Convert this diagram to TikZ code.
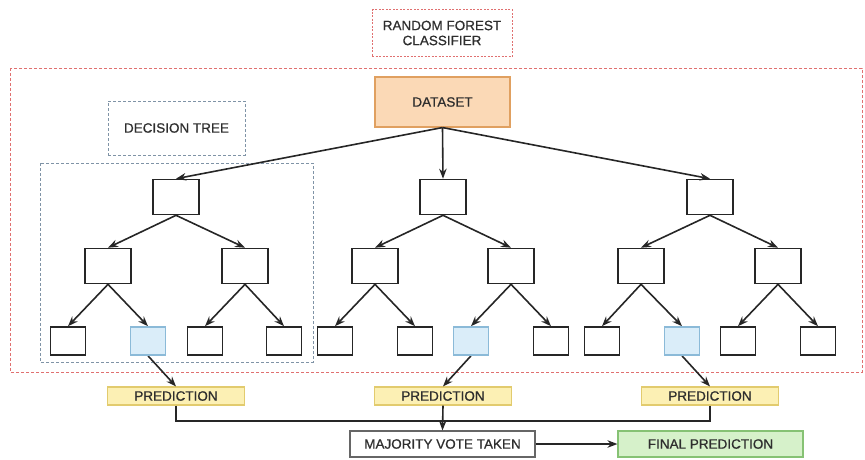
\documentclass[tikz,border=0pt]{standalone}
\usepackage{fontspec}
\setmainfont{Liberation Sans}
\newfontfamily\labfont{Liberation Sans}[FakeBold=0.7]
\usetikzlibrary{arrows.meta}
\definecolor{txt}{HTML}{2E2E2E}
\definecolor{redd}{HTML}{E07070}
\definecolor{blued}{HTML}{7F93A6}
\definecolor{dsfill}{HTML}{FBD9B6}
\definecolor{dsline}{HTML}{E0A060}
\definecolor{prfill}{HTML}{FCF0B4}
\definecolor{prline}{HTML}{E2CB6E}
\definecolor{lffill}{HTML}{DAEDF9}
\definecolor{lfline}{HTML}{8BBAD8}
\definecolor{fpfill}{HTML}{D6F1CA}
\definecolor{fpline}{HTML}{86C274}
\tikzset{
  box/.style={draw=black!85, line width=1.6pt, minimum width=#1, inner sep=0pt},
  tnode/.style={box=46pt, minimum height=35pt},
  leaf/.style={box=35pt, minimum height=28pt},
  hot/.style={leaf, draw=lfline, fill=lffill, line width=1.2pt},
  lab/.style={text=txt, font=\labfont\fontsize{13.5}{15}\selectfont, align=center, inner sep=0pt},
  pred/.style={lab, draw=prline, fill=prfill, line width=1.1pt, minimum width=137pt, minimum height=18pt},
  arr/.style={-{Stealth[length=10pt,width=7.5pt]}, line width=1.6pt, black!85},
  wire/.style={line width=1.6pt, black!85},
}
\begin{document}
\begin{tikzpicture}[x=1pt,y=-1pt]
\useasboundingbox (0,0) rectangle (865,459);

% frames
\draw[redd, dashed, line width=0.9pt, dash pattern=on 3pt off 2pt] (10,68) rectangle (862,372);
\node[lab, draw=redd, dashed, dash pattern=on 2pt off 1.5pt, line width=0.9pt, minimum width=140pt, minimum height=47pt] (rf) at (442,33) {RANDOM FOREST\\CLASSIFIER};
\node[lab, draw=blued, dashed, dash pattern=on 3pt off 2pt, line width=0.9pt, minimum width=137pt, minimum height=54pt] (dt) at (176.5,128) {DECISION TREE};
\draw[blued, dashed, dash pattern=on 3pt off 2pt, line width=0.9pt] (40,163) rectangle (313,362);

% dataset
\node[lab, draw=dsline, fill=dsfill, line width=1.1pt, minimum width=135pt, minimum height=50pt] (ds) at (442.5,102) {DATASET};

% three trees
\foreach \t/\rx/\lx/\ry/\a/\b/\c/\d/\h in {
  1/176/108/245/68/148/205/284/b,
  2/443/375/511/335/415/471/551/c,
  3/710/641/778/602/682/738/818/b}{
  \node[tnode] (r\t) at (\rx,197) {};
  \node[tnode] (l\t) at (\lx,266) {};
  \node[tnode] (m\t) at (\ry,266) {};
  \node[leaf] (a\t) at (\a,341) {};
  \node[leaf] (b\t) at (\b,341) {};
  \node[leaf] (c\t) at (\c,341) {};
  \node[leaf] (d\t) at (\d,341) {};
  \draw[arr] (ds.south) -- (r\t.north);
  \draw[arr] (r\t.south) -- (l\t.north);
  \draw[arr] (r\t.south) -- (m\t.north);
  \draw[arr] (l\t.south) -- (a\t.north);
  \draw[arr] (l\t.south) -- (b\t.north);
  \draw[arr] (m\t.south) -- (c\t.north);
  \draw[arr] (m\t.south) -- (d\t.north);
  \node[pred] (p\t) at (\rx,396) {PREDICTION};
  \draw[arr] (\h\t.south) -- (p\t.north);
}
% highlighted leaves
\node[hot] at (b1) {};
\node[hot] at (c2) {};
\node[hot] at (b3) {};

% vote and result
\node[lab, draw=black!60, fill=white, line width=1.1pt, minimum width=185pt, minimum height=26pt] (mv) at (442.5,444) {MAJORITY VOTE TAKEN};
\node[lab, draw=fpline, fill=fpfill, line width=1.1pt, minimum width=185pt, minimum height=26pt] (fp) at (710.5,444) {FINAL PREDICTION};
\coordinate (j) at (443,421);
\draw[wire] (p1.south) |- (j);
\draw[wire] (p3.south) |- (j);
\draw[arr] (p2.south) -- (mv.north);
\draw[arr] (mv.east) -- (fp.west);
\end{tikzpicture}
\end{document}
